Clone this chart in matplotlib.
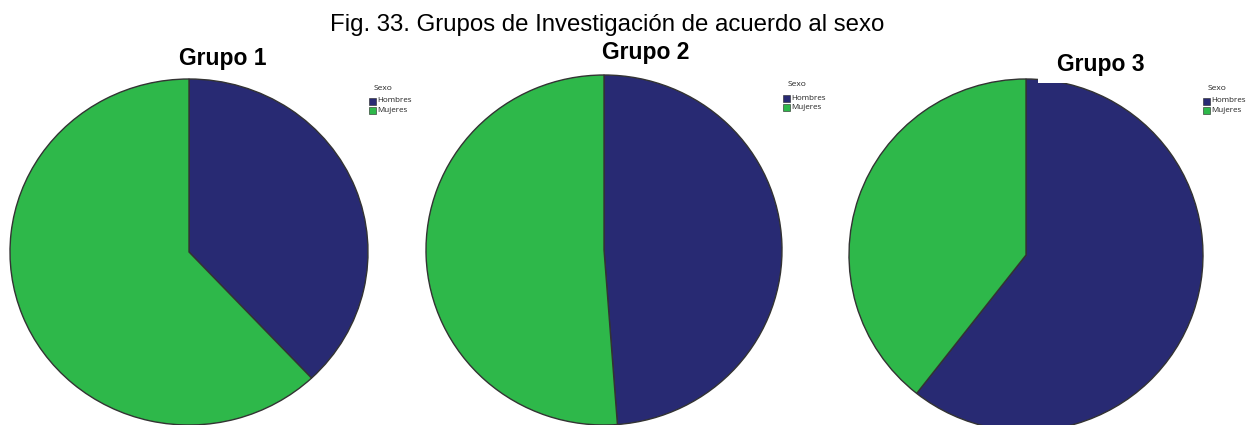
import matplotlib
matplotlib.use("Agg")
import matplotlib.pyplot as plt
from matplotlib.patches import Rectangle

# Data: share of each sex per research group (%)
groups = ["Grupo 1", "Grupo 2", "Grupo 3"]
categories = ["Hombres", "Mujeres"]
hombres = [38.0, 48.8, 60.6]
mujeres = [62.0, 51.2, 39.4]

colors = {"Hombres": "#282a73", "Mujeres": "#2eb84a"}

W, H = 1252, 425
fig = plt.figure(figsize=(W / 100, H / 100), dpi=100)
fig.patch.set_facecolor("white")

# Pixel layout for each pie: centre x, centre y (from top), horizontal & vertical radius
pie_boxes = [(189, 252, 179, 173), (604, 250, 178, 175), (1026, 255, 177, 176)]
title_pos = [(223, 59), (646, 53), (1101, 64)]
legend_pos = [(369, 88), (783, 85), (1203, 88)]

fig.text(607 / W, 1 - 24.5 / H, "Fig. 33. Grupos de Investigación de acuerdo al sexo",
         ha="center", va="center", fontsize=17.3, family="Liberation Sans")

for i, g in enumerate(groups):
    cx, cy, rh, rv = pie_boxes[i]
    ax = fig.add_axes([(cx - rh) / W, (H - cy - rv) / H, 2 * rh / W, 2 * rv / H])
    vals = [hombres[i], mujeres[i]]
    wedges, _ = ax.pie(vals, colors=[colors[c] for c in categories], startangle=90,
                       counterclock=False, radius=1,
                       wedgeprops=dict(edgecolor="#333333", linewidth=1.0))
    for w in wedges:
        w.set_clip_on(False)
    ax.set_xlim(-1, 1)
    ax.set_ylim(-1, 1)
    ax.set_aspect("auto")
    ax.axis("off")

    tx, ty = title_pos[i]
    fig.text(tx / W, 1 - ty / H, g, ha="center", va="center", fontsize=16.5,
             fontweight="bold", family="Liberation Sans", zorder=5)

    # Small legend block
    lx, ly = legend_pos[i]
    fig.text((lx + 14) / W, 1 - ly / H, "Sexo", ha="center", va="center",
             fontsize=6, family="Open Sans", color="#222222")
    for k, c in enumerate(categories):
        yy = ly + 13 + k * 9.5
        fig.patches.append(Rectangle(((lx) / W, (H - yy - 3.5) / H), 7 / W, 7 / H,
                                     transform=fig.transFigure, facecolor=colors[c],
                                     edgecolor="#222222", linewidth=0.4))
        fig.text((lx + 8.5) / W, 1 - yy / H, c, ha="left", va="center",
                 fontsize=5.8, family="Open Sans", color="#222222")

# White title box of the third panel overlapping the top of its pie
fig.patches.append(Rectangle((1038 / W, (H - 83) / H), 40 / W, 13 / H,
                             transform=fig.transFigure, facecolor="white",
                             edgecolor="none", zorder=4))

fig.savefig("out.png", dpi=100, facecolor="white")
